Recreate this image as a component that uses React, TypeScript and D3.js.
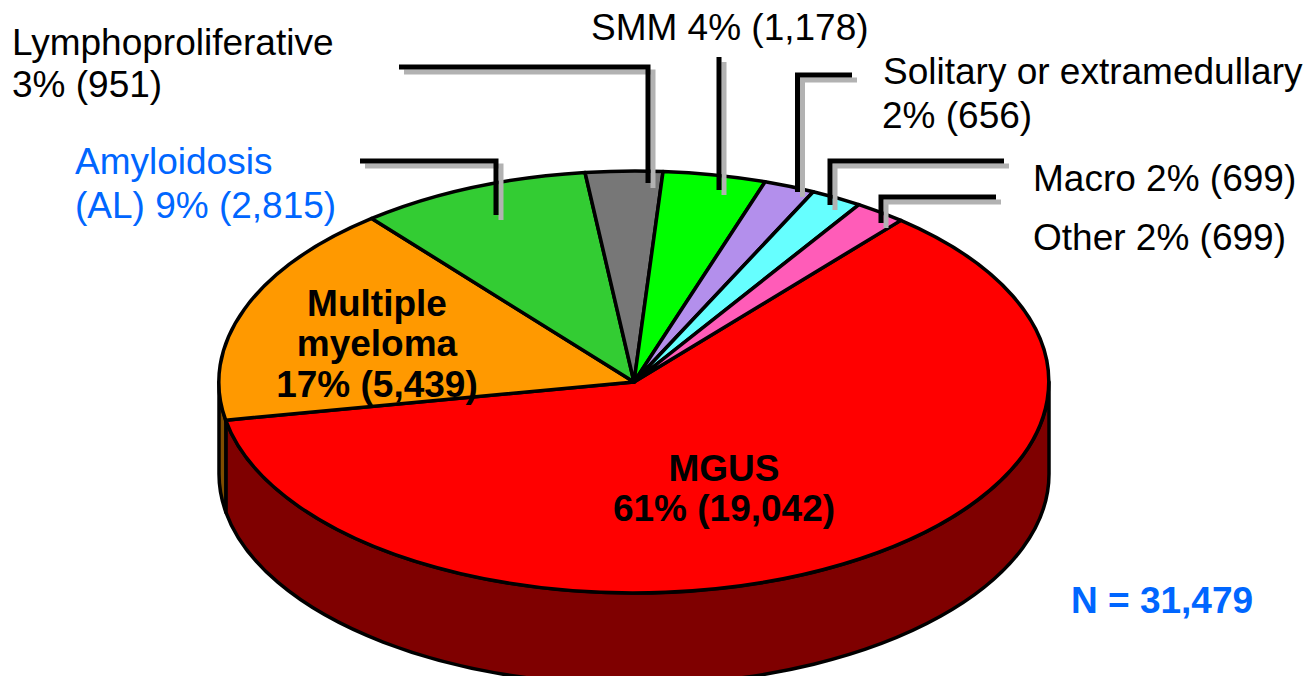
import React from 'react';
import * as d3 from 'd3';

const categories = ['MGUS', 'Multiple myeloma', 'Amyloidosis (AL)', 'Lymphoproliferative', 'SMM', 'Solitary or extramedullary', 'Macro', 'Other'];
const counts = [19042, 5439, 2815, 951, 1178, 656, 699, 699];
const percents = [61, 17, 9, 3, 4, 2, 2, 2];
const colors = ['#ff0000', '#ff9900', '#33cc33', '#777777', '#00ff00', '#b38fec', '#66ffff', '#ff5cb8'];
const wallColors = ['#7f0000', '#7f4d00'];
const total = 31479;

const width = 1309;
const height = 676;
const cx = 634;
const cy = 382;
const rx = 415;
const ry = 211;
const depth = 92;
const startAngle = (40 * Math.PI) / 180;

const fmt = d3.format(',');
const label = (i: number) => `${percents[i]}% (${fmt(counts[i])})`;

// leader lines, pixel paths next to the pie
const leaders = [
  'M399,67H648V183',
  'M360,161H496V215',
  'M719,57V190',
  'M852,75H797.5V192',
  'M1004,161H830V205',
  'M996,197H881V223',
];

const textLabels = [
  { x: 12, y: 55, text: categories[3] },
  { x: 12, y: 97, text: label(3) },
  { x: 591, y: 40, text: `${categories[4]} ${label(4)}` },
  { x: 883, y: 84, text: categories[5] },
  { x: 882, y: 128, text: label(5) },
  { x: 1033, y: 191, text: `${categories[6]} ${label(6)}` },
  { x: 1033, y: 250, text: `${categories[7]} ${label(7)}` },
  { x: 75, y: 174, text: 'Amyloidosis', fill: '#0066ff' },
  { x: 75, y: 218, text: `(AL) ${label(2)}`, fill: '#0066ff' },
];

const boldLabels = [
  { x: 377, y: 316, text: 'Multiple' },
  { x: 377, y: 356, text: 'myeloma' },
  { x: 377, y: 397, text: label(1) },
  { x: 724, y: 481, text: categories[0] },
  { x: 724, y: 521, text: label(0) },
];

// point on the top ellipse, angle clockwise from north like d3.arc
const px = (a: number) => cx + rx * Math.sin(a);
const py = (a: number) => cy - ry * Math.cos(a);

function wallPath(a0: number, a1: number) {
  return `M${px(a0)},${py(a0)}A${rx},${ry} 0 0 1 ${px(a1)},${py(a1)}` +
    `L${px(a1)},${py(a1) + depth}A${rx},${ry} 0 0 0 ${px(a0)},${py(a0) + depth}Z`;
}

export default function App() {
  // the picture's slices follow the rounded percentages, not the raw counts
  const slices = d3.pie<number>()
    .sort(null)
    .startAngle(startAngle)
    .endAngle(startAngle + 2 * Math.PI)(percents);

  const arc = d3.arc<d3.PieArcDatum<number>>().innerRadius(0).outerRadius(1);

  const wallEnd = (3 * Math.PI) / 2;
  const walls = [
    { a0: Math.PI / 2, a1: slices[0].endAngle, fill: wallColors[0] },
    { a0: slices[0].endAngle, a1: wallEnd, fill: wallColors[1] },
  ];

  return (
    <svg width={width} height={height} style={{ position: 'absolute', left: 0, top: 0 }} fontFamily="'Liberation Sans', Arial, sans-serif">
      <rect width={width} height={height} fill="#fff" />
      {walls.map((w, i) => (
        <path key={i} d={wallPath(w.a0, w.a1)} fill={w.fill} stroke="#000" strokeWidth={3.5} strokeLinejoin="round" />
      ))}
      <g transform={`translate(${cx},${cy}) scale(${rx},${ry})`}>
        {slices.map((s, i) => (
          <path
            key={categories[i]}
            d={arc(s) as string}
            fill={colors[i]}
            stroke="#000"
            strokeWidth={3.5}
            strokeLinejoin="round"
            vectorEffect="non-scaling-stroke"
          />
        ))}
      </g>
      {leaders.map((d, i) => (
        <path key={i} d={d} transform="translate(5,5)" fill="none" stroke="#b2b2b2" strokeWidth={5} />
      ))}
      {leaders.map((d, i) => (
        <path key={i} d={d} fill="none" stroke="#000" strokeWidth={5} />
      ))}
      {textLabels.map(t => (
        <text key={t.text} x={t.x} y={t.y} fontSize={37} fill={t.fill ?? '#000'}>{t.text}</text>
      ))}
      {boldLabels.map(t => (
        <text key={t.text} x={t.x} y={t.y} fontSize={37} fontWeight="bold" textAnchor="middle">{t.text}</text>
      ))}
      <text x={1071} y={613} fontSize={37} fontWeight="bold" fill="#0066ff">{`N = ${fmt(total)}`}</text>
    </svg>
  );
}
